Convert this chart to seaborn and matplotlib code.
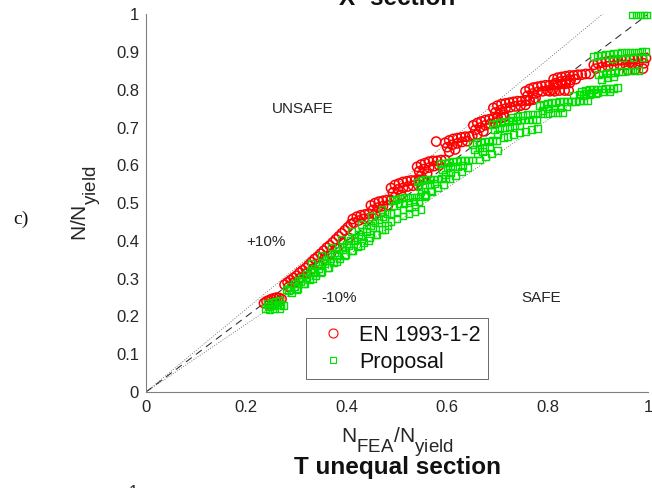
import matplotlib
matplotlib.use("Agg")
import matplotlib.pyplot as plt
import matplotlib._mathtext as _mt
from matplotlib.lines import Line2D
import seaborn as sns
import pandas as pd

# ---------------- data ----------------
en_x = [
    0.235, 0.240, 0.245, 0.250, 0.255, 0.260, 0.265, 0.270, 0.245, 0.255, 0.265,
    0.276, 0.282, 0.288, 0.294, 0.300, 0.306, 0.312, 0.318, 0.324, 0.330, 0.336, 0.342,
    0.348, 0.354, 0.360, 0.366, 0.372, 0.378, 0.384, 0.390, 0.396, 0.402, 0.408,
    0.284, 0.296, 0.308, 0.320, 0.332, 0.344, 0.356, 0.368, 0.380, 0.392, 0.404,
    0.412, 0.420, 0.428, 0.436, 0.444, 0.414, 0.424, 0.434, 0.444,
    0.448, 0.456, 0.464, 0.472, 0.480, 0.488, 0.452, 0.462, 0.472, 0.482, 0.456, 0.468,
    0.488, 0.496, 0.504, 0.512, 0.520, 0.528, 0.536, 0.544, 0.552, 0.492, 0.502, 0.512, 0.522, 0.532, 0.542, 0.496, 0.508,
    0.540, 0.548, 0.556, 0.564, 0.572, 0.580, 0.588, 0.596, 0.544, 0.554, 0.564, 0.574, 0.584, 0.548, 0.560,
    0.578,
    0.596, 0.604, 0.612, 0.620, 0.628, 0.636, 0.644, 0.650, 0.600, 0.610, 0.620, 0.630, 0.640, 0.604, 0.616,
    0.652, 0.660, 0.668, 0.676, 0.684, 0.692, 0.700, 0.708, 0.714, 0.656, 0.666, 0.676, 0.686, 0.696, 0.660, 0.672,
    0.692, 0.700, 0.708, 0.716, 0.724, 0.732, 0.740, 0.748, 0.756, 0.764, 0.772, 0.696, 0.706, 0.716, 0.726, 0.736, 0.746, 0.756, 0.700, 0.712,
    0.756, 0.764, 0.772, 0.780, 0.788, 0.796, 0.804, 0.812, 0.820, 0.828, 0.836, 0.844, 0.760, 0.770, 0.780, 0.790, 0.800, 0.810, 0.764, 0.776,
    0.812, 0.820, 0.828, 0.836, 0.844, 0.852, 0.860, 0.868, 0.876, 0.884, 0.816, 0.826, 0.836, 0.846, 0.856, 0.804, 0.814, 0.824, 0.834, 0.842,
    0.892, 0.900, 0.908, 0.916, 0.924, 0.932, 0.940, 0.948, 0.956, 0.964, 0.972, 0.980, 0.988, 0.996,
    0.896, 0.908, 0.920, 0.932, 0.944, 0.956, 0.968, 0.980, 0.992, 0.960, 0.975, 0.990,
]
en_y = [
    0.235, 0.240, 0.243, 0.246, 0.248, 0.250, 0.249, 0.246, 0.232, 0.238, 0.240,
    0.284, 0.290, 0.296, 0.302, 0.308, 0.316, 0.322, 0.328, 0.336, 0.344, 0.352, 0.358,
    0.366, 0.374, 0.382, 0.388, 0.396, 0.404, 0.412, 0.420, 0.428, 0.436, 0.444,
    0.278, 0.290, 0.302, 0.314, 0.326, 0.340, 0.354, 0.366, 0.380, 0.394, 0.408,
    0.458, 0.464, 0.468, 0.470, 0.472, 0.448, 0.454, 0.458, 0.460,
    0.494, 0.500, 0.504, 0.506, 0.508, 0.508, 0.482, 0.488, 0.492, 0.494, 0.470, 0.476,
    0.540, 0.548, 0.552, 0.556, 0.558, 0.560, 0.560, 0.562, 0.562, 0.528, 0.536, 0.540, 0.544, 0.546, 0.548, 0.516, 0.522,
    0.596, 0.602, 0.606, 0.610, 0.612, 0.612, 0.614, 0.614, 0.584, 0.590, 0.594, 0.598, 0.600, 0.572, 0.578,
    0.663,
    0.660, 0.666, 0.670, 0.672, 0.674, 0.676, 0.676, 0.678, 0.648, 0.654, 0.658, 0.662, 0.664, 0.636, 0.642,
    0.706, 0.712, 0.716, 0.720, 0.722, 0.724, 0.726, 0.726, 0.728, 0.694, 0.700, 0.706, 0.710, 0.712, 0.682, 0.690,
    0.752, 0.758, 0.762, 0.764, 0.766, 0.768, 0.770, 0.770, 0.772, 0.772, 0.774, 0.740, 0.746, 0.750, 0.754, 0.756, 0.758, 0.760, 0.728, 0.734,
    0.796, 0.802, 0.806, 0.808, 0.810, 0.812, 0.812, 0.814, 0.814, 0.816, 0.816, 0.818, 0.784, 0.790, 0.794, 0.796, 0.798, 0.800, 0.772, 0.778,
    0.828, 0.832, 0.834, 0.836, 0.838, 0.838, 0.840, 0.840, 0.842, 0.842, 0.818, 0.822, 0.824, 0.826, 0.828, 0.796, 0.796, 0.798, 0.798, 0.798,
    0.866, 0.870, 0.872, 0.874, 0.876, 0.876, 0.878, 0.878, 0.880, 0.880, 0.882, 0.882, 0.884, 0.884,
    0.856, 0.860, 0.862, 0.864, 0.866, 0.866, 0.868, 0.868, 0.870, 0.852, 0.854, 0.856,
]

prop_x = [
    0.238, 0.244, 0.250, 0.256, 0.262, 0.268, 0.274, 0.242, 0.250, 0.258, 0.266, 0.246, 0.256, 0.266,
    0.280, 0.288, 0.296, 0.304, 0.312, 0.320, 0.328, 0.336, 0.344, 0.352, 0.360, 0.368, 0.376,
    0.384, 0.392, 0.400, 0.408, 0.416, 0.424, 0.432, 0.440, 0.448, 0.456, 0.464, 0.472, 0.480,
    0.284, 0.296, 0.308, 0.320, 0.332, 0.344, 0.356, 0.368, 0.380, 0.392, 0.404, 0.416, 0.428, 0.440, 0.452, 0.464, 0.476, 0.488,
    0.290, 0.302, 0.314, 0.326, 0.338, 0.350, 0.362, 0.374, 0.386, 0.398, 0.410, 0.422, 0.434, 0.446, 0.458, 0.470, 0.482,
    0.300, 0.316, 0.332, 0.348, 0.364, 0.380, 0.396, 0.412, 0.428, 0.444, 0.460, 0.476,
    0.330, 0.350, 0.370, 0.390, 0.410, 0.430, 0.450, 0.470,
    0.488, 0.500, 0.512, 0.524, 0.536, 0.548,
    0.490, 0.498, 0.506, 0.514, 0.522, 0.530, 0.538, 0.546, 0.554, 0.494, 0.504, 0.514, 0.524, 0.534, 0.544, 0.500, 0.512, 0.524, 0.536,
    0.556, 0.568, 0.580, 0.592,
    0.540, 0.548, 0.556, 0.564, 0.572, 0.580, 0.588, 0.596, 0.544, 0.554, 0.564, 0.574, 0.548, 0.556, 0.566,
    0.604, 0.616, 0.628, 0.640,
    0.586, 0.594, 0.602, 0.610, 0.618, 0.626, 0.634, 0.642, 0.650, 0.590, 0.600, 0.610, 0.620, 0.630, 0.596, 0.606,
    0.664, 0.676, 0.688, 0.700,
    0.650, 0.658, 0.666, 0.674, 0.682, 0.690, 0.698, 0.654, 0.664, 0.674, 0.684, 0.660, 0.670,
    0.690, 0.698, 0.706, 0.714, 0.722, 0.730, 0.738, 0.746, 0.754, 0.762, 0.770, 0.778,
    0.694, 0.704, 0.714, 0.724, 0.734, 0.744, 0.700, 0.712, 0.720, 0.732, 0.744, 0.756, 0.768, 0.780,
    0.730, 0.740, 0.750, 0.760, 0.770, 0.780, 0.790, 0.800, 0.810, 0.820, 0.830,
    0.784, 0.792, 0.800, 0.808, 0.816, 0.824, 0.832, 0.840, 0.848, 0.856, 0.864, 0.872, 0.880, 0.790, 0.802, 0.814, 0.826, 0.838,
    0.852, 0.864, 0.876, 0.888, 0.900, 0.912, 0.924,
    0.868, 0.876, 0.884, 0.892, 0.900, 0.908, 0.916, 0.924, 0.932, 0.940, 0.872, 0.884, 0.896,
    0.902, 0.910, 0.918, 0.926, 0.934, 0.942, 0.950, 0.958, 0.966, 0.974, 0.982, 0.908, 0.920, 0.932,
    0.892, 0.900, 0.908, 0.916, 0.924, 0.932, 0.940, 0.948, 0.956, 0.964, 0.972, 0.980, 0.988, 0.996, 0.930, 0.950, 0.970, 0.990,
    0.968, 0.976, 0.984, 0.992, 0.998,
]
prop_y = [
    0.222, 0.226, 0.228, 0.230, 0.232, 0.232, 0.230, 0.234, 0.238, 0.240, 0.242, 0.218, 0.220, 0.222,
    0.272, 0.280, 0.288, 0.296, 0.304, 0.312, 0.320, 0.328, 0.336, 0.344, 0.352, 0.360, 0.368,
    0.376, 0.384, 0.392, 0.400, 0.408, 0.416, 0.424, 0.432, 0.440, 0.448, 0.456, 0.464, 0.472,
    0.268, 0.280, 0.292, 0.304, 0.316, 0.328, 0.340, 0.352, 0.364, 0.376, 0.388, 0.400, 0.412, 0.424, 0.436, 0.448, 0.460, 0.472,
    0.262, 0.274, 0.286, 0.298, 0.308, 0.320, 0.330, 0.342, 0.352, 0.364, 0.374, 0.386, 0.396, 0.408, 0.418, 0.430, 0.440,
    0.270, 0.286, 0.300, 0.316, 0.330, 0.344, 0.360, 0.374, 0.388, 0.402, 0.416, 0.430,
    0.340, 0.362, 0.384, 0.404, 0.424, 0.444, 0.464, 0.484,
    0.452, 0.460, 0.466, 0.472, 0.478, 0.484,
    0.506, 0.510, 0.512, 0.514, 0.514, 0.516, 0.516, 0.518, 0.518, 0.494, 0.498, 0.500, 0.502, 0.504, 0.504, 0.476, 0.484, 0.488, 0.492,
    0.520, 0.530, 0.540, 0.550,
    0.556, 0.560, 0.562, 0.562, 0.564, 0.564, 0.566, 0.566, 0.544, 0.548, 0.550, 0.552, 0.530, 0.522, 0.532,
    0.566, 0.574, 0.584, 0.594,
    0.604, 0.606, 0.608, 0.610, 0.610, 0.612, 0.612, 0.614, 0.614, 0.590, 0.594, 0.596, 0.598, 0.600, 0.576, 0.582,
    0.614, 0.622, 0.630, 0.640,
    0.656, 0.660, 0.662, 0.664, 0.664, 0.666, 0.666, 0.642, 0.646, 0.648, 0.650, 0.630, 0.636,
    0.708, 0.712, 0.714, 0.716, 0.716, 0.718, 0.718, 0.720, 0.720, 0.720, 0.722, 0.722,
    0.694, 0.698, 0.700, 0.702, 0.704, 0.704, 0.682, 0.674, 0.676, 0.682, 0.686, 0.690, 0.694, 0.698,
    0.726, 0.730, 0.732, 0.734, 0.736, 0.736, 0.738, 0.738, 0.740, 0.740, 0.740,
    0.758, 0.762, 0.764, 0.766, 0.766, 0.768, 0.768, 0.770, 0.770, 0.770, 0.772, 0.772, 0.772, 0.746, 0.750, 0.752, 0.754, 0.756,
    0.786, 0.788, 0.790, 0.792, 0.792, 0.794, 0.794,
    0.796, 0.798, 0.800, 0.800, 0.802, 0.802, 0.804, 0.804, 0.804, 0.806, 0.784, 0.788, 0.790,
    0.840, 0.842, 0.844, 0.846, 0.846, 0.848, 0.848, 0.850, 0.850, 0.850, 0.852, 0.828, 0.832, 0.834,
    0.888, 0.890, 0.892, 0.894, 0.894, 0.896, 0.896, 0.898, 0.898, 0.900, 0.900, 0.900, 0.902, 0.902, 0.882, 0.884, 0.886, 0.886,
    0.998, 0.998, 0.998, 0.998, 0.998,
]

series_labels = ["EN 1993-1-2", "Proposal"]
ref_x = [0.0, 1.0]
ref_equal = [0.0, 1.0]
ref_plus = [0.0, 1.1]
ref_minus = [0.0, 0.9]

x_ticks = [0, 0.2, 0.4, 0.6, 0.8, 1]
x_tick_labels = ["0", "0.2", "0.4", "0.6", "0.8", "1"]
y_ticks = [0, 0.1, 0.2, 0.3, 0.4, 0.5, 0.6, 0.7, 0.8, 0.9, 1]
y_tick_labels = ["0", "0.1", "0.2", "0.3", "0.4", "0.5", "0.6", "0.7", "0.8", "0.9", "1"]

# ---------------- style ----------------
sns.set_style("white")
plt.rcParams["font.family"] = ["Liberation Sans", "DejaVu Sans"]
plt.rcParams["mathtext.fontset"] = "custom"
plt.rcParams["mathtext.rm"] = "Liberation Sans"
plt.rcParams["mathtext.it"] = "Liberation Sans:italic"
# MATLAB-like subscripts: larger and lower than matplotlib's defaults
_mt.SHRINK_FACTOR = 0.9
_mt.FontConstantsBase.sub1 = 0.95
_mt.FontConstantsBase.subdrop = 0.95

AX = "#262626"
RED = "#ff0000"
GREEN = "#00e000"

fig = plt.figure(figsize=(6.52, 4.88), dpi=100)
ax = fig.add_axes([146 / 652, 1 - 392 / 488, 502 / 652, (392 - 14.25) / 488])

ax.plot(ref_x, ref_plus, ls=(0, (1, 2)), lw=0.6, color="#555555", zorder=1)
ax.plot(ref_x, ref_minus, ls=(0, (1, 2)), lw=0.6, color="#555555", zorder=1)
ax.plot(ref_x, ref_equal, ls=(0, (7, 5)), lw=0.75, color="#2a2a2a", zorder=1)

df_en = pd.DataFrame({"x": en_x, "y": en_y})
df_pr = pd.DataFrame({"x": prop_x, "y": prop_y})

sns.scatterplot(data=df_en, x="x", y="y", marker="o", s=44, color=RED, ax=ax,
                legend=False, zorder=2, clip_on=False)
coll = ax.collections[-1]
coll.set_facecolor("none")
coll.set_edgecolor(RED)
coll.set_linewidth(1.1)

sns.scatterplot(data=df_pr, x="x", y="y", marker="s", s=24, color=GREEN, ax=ax,
                legend=False, zorder=3, clip_on=False)
coll = ax.collections[-1]
coll.set_facecolor("none")
coll.set_edgecolor(GREEN)
coll.set_linewidth(1.0)

ax.set_xlim(0, 1)
ax.set_ylim(0, 1)
ax.set_xticks(x_ticks)
ax.set_xticklabels(x_tick_labels)
ax.set_yticks(y_ticks)
ax.set_yticklabels(y_tick_labels)
ax.tick_params(direction="in", length=3.5, width=0.6, colors=AX, labelsize=12)
ax.tick_params(axis="x", pad=6)
ax.tick_params(axis="y", pad=5)
for side in ["top", "right"]:
    ax.spines[side].set_visible(False)
for side in ["left", "bottom"]:
    ax.spines[side].set_color("#808080")
    ax.spines[side].set_linewidth(0.8)

ax.set_xlabel(r"$\mathrm{N_{FEA}/N_{yield}}$", fontsize=15, color=AX)
ax.set_ylabel(r"$\mathrm{N/N_{yield}}$", fontsize=15, color=AX)
ax.xaxis.set_label_coords(0.5, -0.088)
ax.yaxis.set_label_coords(-0.086, 0.5)

txt_kw = dict(fontsize=11, color=AX, ha="center", va="center")
ax.text(0.313, 0.75, "UNSAFE", **txt_kw)
ax.text(0.239, 0.397, "+10%", **txt_kw)
ax.text(0.385, 0.249, "-10%", **txt_kw)
ax.text(0.788, 0.249, "SAFE", **txt_kw)

handles = [
    Line2D([], [], marker="o", ls="none", mfc="none", mec=RED, ms=6.5, mew=0.8),
    Line2D([], [], marker="s", ls="none", mfc="none", mec=GREEN, ms=5, mew=0.8),
]
leg = ax.legend(handles, series_labels, loc="lower left", bbox_to_anchor=(0.318, 0.034),
                borderaxespad=0, fontsize=15.5, frameon=True, fancybox=False,
                borderpad=0.3, handletextpad=0.3, labelspacing=0.27, handlelength=1.9)
leg.get_frame().set_edgecolor(AX)
leg.get_frame().set_linewidth(0.6)
for t in leg.get_texts():
    t.set_color("#111111")

fig.text(397 / 652, 1 - 5 / 488, "X- section", fontsize=17.5, fontweight="bold",
         ha="center", va="baseline", color="#111111")
fig.text(397 / 652, (488 - 474) / 488, "T unequal section", fontsize=17.5,
         fontweight="bold", ha="center", va="baseline", color="#111111")
fig.text(21 / 652, 1 - 219 / 488, "c)", fontsize=14, family=["Liberation Serif"],
         ha="center", va="center", color="#111111")
fig.text(133 / 652, (488 - 485) / 488, "1", fontsize=12, ha="center", va="top", color=AX)

fig.savefig("out.png", dpi=100)
